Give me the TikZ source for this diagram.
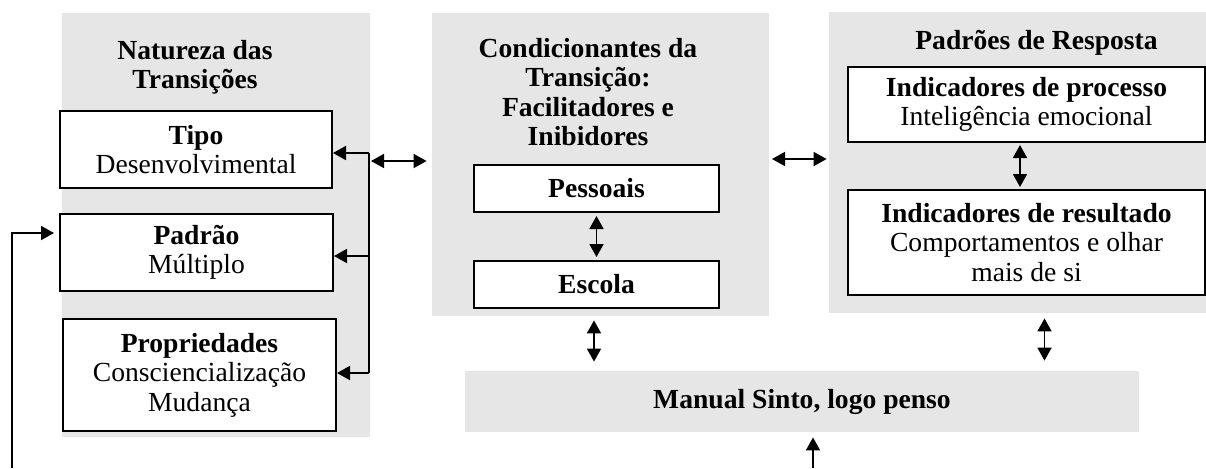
\documentclass[tikz,border=0pt]{standalone}
\usepackage{fontspec}
\setmainfont{Liberation Serif}
\usetikzlibrary{arrows.meta}
\definecolor{Cinza}{RGB}{230, 230, 230}
\definecolor{Preto}{RGB}{0, 0, 0}

\begin{document}
\begin{tikzpicture}[x=0.5pt,y=-0.5pt,
    font=\fontsize{13.8}{14.8}\selectfont,
    painel/.style={fill=Cinza, inner sep=0pt},
    caixa/.style={draw=Preto, line width=1pt, fill=white, inner sep=0pt, align=center},
    titulo/.style={align=center, font=\fontsize{13.8}{14.6}\selectfont\bfseries},
    seta/.style={draw=Preto, line width=0.9pt, -{Triangle[length=6.5pt,width=7pt]}},
    setadupla/.style={draw=Preto, line width=0.9pt, {Triangle[length=6.5pt,width=7pt]}-{Triangle[length=6.5pt,width=7pt]}}]
            \useasboundingbox (0,0) rectangle (1206,468);
            %Natureza das Transicoes
            \node[painel, minimum width=154pt, minimum height=212pt] (nat) at (216,225) {};
            \node[titulo] (natT) at (195,67) {Natureza das\\Transições};
            \node[caixa, minimum width=136pt, minimum height=38.5pt] (tipo) at (196,149.5) {\textbf{Tipo}\\Desenvolvimental};
            \node[caixa, minimum width=136.5pt, minimum height=38.5pt] (padrao) at (196.5,252.5) {\textbf{Padrão}\\Múltiplo};
            \node[caixa, minimum width=136.5pt, minimum height=56pt] (prop) at (199.5,375) {\textbf{Propriedades}\\Consciencialização\\Mudança};
            \coordinate (barra1) at (369,153);
            \coordinate (barra2) at (369,256);
            \coordinate (barra3) at (369,373);
            \draw[draw=Preto, line width=0.9pt] (barra1) -- (barra3);
            \draw[seta] (barra1) -- (barra1 -| tipo.east);
            \draw[seta] (barra2) -- (barra2 -| padrao.east);
            \draw[seta] (barra3) -- (barra3 -| prop.east);
            %Condicionantes
            \node[painel, minimum width=168.5pt, minimum height=151.5pt] (cond) at (600.5,164.5) {};
            \node[titulo] (condT) at (588,92) {Condicionantes da\\Transição:\\Facilitadores e\\Inibidores};
            \node[caixa, minimum width=122.5pt, minimum height=23.5pt] (pess) at (596.5,188.5) {\textbf{Pessoais}};
            \node[caixa, minimum width=122.5pt, minimum height=23.5pt] (esc) at (596.5,284.5) {\textbf{Escola}};
            \draw[setadupla, shorten <=1.5pt, shorten >=1.5pt] (pess.south) -- (esc.north);
            %Padroes de Resposta
            \node[painel, minimum width=188.5pt, minimum height=150.5pt] (resp) at (1017.5,162.5) {};
            \node[titulo] (respT) at (1036.5,43) {Padrões de Resposta};
            \node[caixa, minimum width=178.5pt, minimum height=37.5pt] (proc) at (1026.5,104.5) {\textbf{Indicadores de processo}\\Inteligência emocional};
            \node[caixa, minimum width=178.5pt, minimum height=52.5pt] (res) at (1026.5,242.5) {\textbf{Indicadores de resultado}\\Comportamentos e olhar\\mais de si};
            \draw[setadupla, shorten <=1pt, shorten >=1pt] ([xshift=-3.25pt]proc.south) -- ([xshift=-3.25pt]res.north);
            %Manual
            \node[painel, minimum width=337pt, minimum height=30.5pt, font=\fontsize{13.8}{14.6}\selectfont\bfseries] (manual) at (802,401.5) {Manual Sinto, logo penso};
            \coordinate (ligA) at (371,161);
            \coordinate (ligB) at (772,159);
            \draw[setadupla, shorten >=2.5pt] (ligA) -- (ligA -| cond.west);
            \draw[setadupla, shorten >=1pt] (ligB) -- (ligB -| resp.west);
            \draw[setadupla, shorten <=2pt, shorten >=4.5pt] ([xshift=-3.25pt]cond.south) -- ([xshift=-3.25pt]cond.south |- manual.north);
            \draw[setadupla, shorten <=2.5pt, shorten >=5pt] ([xshift=13.5pt]resp.south) -- ([xshift=13.5pt]resp.south |- manual.north);
            %Retorno
            \coordinate (ret1) at (12,468);
            \coordinate (ret2) at (813,468);
            \draw[seta, shorten >=2.5pt] (ret1) |- ([yshift=9.75pt]padrao.west);
            \draw[seta, shorten >=2.5pt] (ret2) -- (ret2 |- manual.south);
        \end{tikzpicture}
\end{document}
